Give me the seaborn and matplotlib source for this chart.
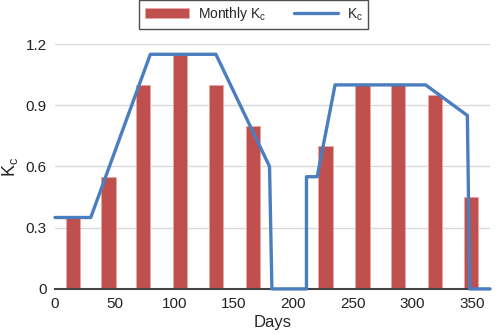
import matplotlib
matplotlib.use("Agg")
import matplotlib.pyplot as plt
import seaborn as sns
import pandas as pd

# monthly crop coefficient (bars)
month_days = [15, 45, 74, 105, 135, 166, 196, 227, 258, 288, 319, 349]
monthly_kc = [0.35, 0.55, 1.0, 1.15, 1.0, 0.8, 0.0, 0.7, 1.0, 1.0, 0.95, 0.45]

# daily Kc curve (line vertices)
curve_days = [0, 30, 80, 135, 180, 182, 211, 211, 220, 235, 311, 346, 348, 365]
curve_kc = [0.35, 0.35, 1.15, 1.15, 0.6, 0.0, 0.0, 0.55, 0.55, 1.0, 1.0, 0.85, 0.0, 0.0]

yticks = [0, 0.3, 0.6, 0.9, 1.2]
ytick_labels = ["0", "0.3", "0.6", "0.9", "1.2"]
xticks = [0, 50, 100, 150, 200, 250, 300, 350]

bar_color = "#C0504D"
line_color = "#4A7EBF"

sns.set_style("white")
plt.rcParams["font.family"] = ["Liberation Sans", "DejaVu Sans"]

bars_df = pd.DataFrame({"day": month_days, "kc": monthly_kc})
curve_df = pd.DataFrame({"day": curve_days, "kc": curve_kc})

fig, ax = plt.subplots(figsize=(5, 3.34), dpi=100)
fig.subplots_adjust(left=0.11, right=0.98, bottom=0.135, top=0.868)

sns.barplot(data=bars_df, x="day", y="kc", native_scale=True, width=0.42,
            color=bar_color, saturation=1, edgecolor="#E8A9A8", linewidth=0.6,
            ax=ax, label="Monthly K$_\\mathregular{c}$", zorder=2)
sns.lineplot(data=curve_df, x="day", y="kc", color=line_color, linewidth=2.4,
             ax=ax, label="K$_\\mathregular{c}$", zorder=5, sort=False,
             estimator=None)
for ln in ax.lines:
    ln.set_clip_on(False)

ax.set_xlim(0, 365)
ax.set_ylim(0, 1.2)
ax.set_xticks(xticks)
ax.set_xticklabels([str(t) for t in xticks])
ax.set_yticks(yticks)
ax.set_yticklabels(ytick_labels)
ax.tick_params(axis="both", length=0, labelsize=11, colors="#222222", pad=6)
ax.yaxis.grid(True, color="#DADADA", linewidth=1)
ax.set_axisbelow(True)
for s in ["left", "right", "top"]:
    ax.spines[s].set_visible(False)
ax.spines["bottom"].set_color("#444444")
ax.spines["bottom"].set_linewidth(1.5)
ax.spines["bottom"].set_zorder(4)

ax.set_xlabel("Days", fontsize=12, labelpad=3)
ax.set_ylabel("K$_\\mathregular{c}$", fontsize=13, labelpad=4)

handles, labels = ax.get_legend_handles_labels()
order = [labels.index("Monthly K$_\\mathregular{c}$"), labels.index("K$_\\mathregular{c}$")]
leg = ax.legend([handles[i] for i in order], [labels[i] for i in order],
                loc="upper center", bbox_to_anchor=(0.457, 1.21), ncol=2,
                frameon=True, fancybox=False, fontsize=10, handlelength=3.2,
                columnspacing=2.0, borderpad=0.4, handletextpad=0.6)
leg.get_frame().set_edgecolor("#222222")
leg.get_frame().set_linewidth(1)

plt.savefig("out.png", dpi=100)
